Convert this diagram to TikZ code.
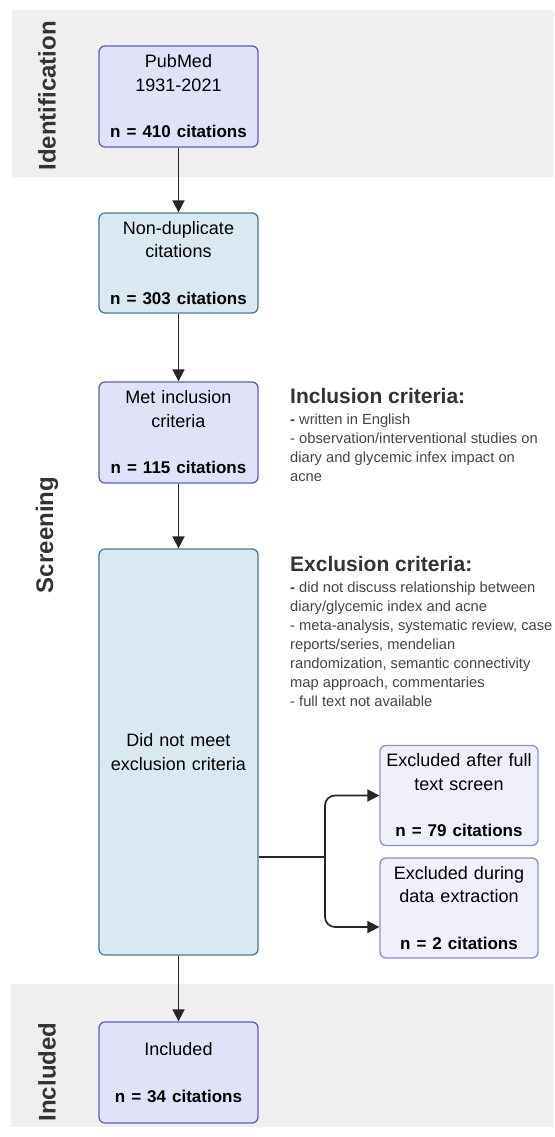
\documentclass[tikz,border=0pt]{standalone}
\usepackage{fontspec}
\setmainfont{Liberation Sans}
\usetikzlibrary{arrows.meta, positioning}

\definecolor{bandgray}{HTML}{EFEFEF}
\definecolor{lavfill}{HTML}{E0E2F7}
\definecolor{lavline}{HTML}{5D62B2}
\definecolor{bluefill}{HTML}{DAE9F1}
\definecolor{blueline}{HTML}{4E7894}
\definecolor{exfill}{HTML}{EFF0FA}
\definecolor{exline}{HTML}{8B90C7}
\definecolor{headgray}{HTML}{333333}
\definecolor{bodygray}{HTML}{444444}

\newcommand{\ncit}[1]{{\fontsize{17}{23.3}\selectfont\bfseries n = #1 citations}}

\begin{document}
\begin{tikzpicture}[x=1pt, y=-1pt,
    flowbox/.style={draw, line width=1.3pt, rounded corners=6pt, align=center, text width=150pt, inner sep=0pt, font=\fontsize{18}{23.3}\selectfont, text=black},
    lavbox/.style={flowbox, fill=lavfill, draw=lavline, minimum width=159pt, minimum height=101pt},
    bluebox/.style={flowbox, fill=bluefill, draw=blueline, minimum width=159pt},
    exbox/.style={flowbox, fill=exfill, draw=exline, minimum width=158pt, minimum height=100pt},
    stagelabel/.style={rotate=90, font=\fontsize{24}{24}\selectfont\bfseries, text=headgray},
    crithead/.style={font=\fontsize{21}{24}\selectfont\bfseries, text=headgray, inner sep=0pt},
    critbody/.style={font=\fontsize{14.7}{19}\selectfont, text=bodygray, align=left, inner sep=0pt},
    flowline/.style={line width=1.7pt, draw=black!85, -{Triangle[length=12pt, width=12pt]}},
  ]
    \useasboundingbox (0,0) rectangle (554,1137);

    % stage bands
    \fill[bandgray] (12,10) rectangle (554,177);
    \fill[bandgray] (11,984) rectangle (554,1127);
    \node[stagelabel] (idlab) at (47,96) {Identification};
    \node[stagelabel] (scrlab) at (47,535) {Screening};
    \node[stagelabel] (inclab) at (47,1072) {Included};

    % main column
    \node[lavbox] (pubmed) at (178.5,96.5) {PubMed\\1931-2021\\[23.3pt]\ncit{410}};
    \node[bluebox, minimum height=100pt] (nondup) at (178.5,263) {Non-duplicate\\citations\\[23.3pt]\ncit{303}};
    \node[lavbox] (metincl) at (178.5,432.5) {Met inclusion\\criteria\\[23.3pt]\ncit{115}};
    \node[bluebox, minimum height=406pt] (notmet) at (178.5,752) {Did not meet\\exclusion criteria};
    \node[lavbox] (included) at (178.5,1072.5) {Included\\[23.3pt]\ncit{34}};

    % excluded
    \node[exbox] (exfull) at (459,795.5) {Excluded after full\\text screen\\[23.3pt]\ncit{79}};
    \node[exbox] (exdata) at (459,908) {Excluded during\\data extraction\\[23.3pt]\ncit{2}};

    % criteria
    \node[crithead, anchor=west] (inclhead) at (290,396) {Inclusion criteria:};
    \node[critbody, below=10pt of inclhead.south west, anchor=north west] (incltext)
      {\textbf{-} written in English\\- observation/interventional studies on\\diary and glycemic infex impact on\\acne};
    \node[crithead, anchor=west] (exclhead) at (290,564) {Exclusion criteria:};
    \node[critbody, below=10pt of exclhead.south west, anchor=north west] (excltext)
      {\textbf{-} did not discuss relationship between\\diary/glycemic index and acne\\- meta-analysis, systematic review, case\\reports/series, mendelian\\randomization, semantic connectivity\\map approach, commentaries\\- full text not available};

    % connectors
    \draw[flowline] (pubmed) -- (nondup);
    \draw[flowline] (nondup) -- (metincl);
    \draw[flowline] (metincl) -- (notmet);
    \draw[flowline] (notmet) -- (included);
    \coordinate (split) at (325,857);
    \draw[line width=1.7pt, draw=black!85] (notmet.east |- split) -- (split);
    \draw[flowline, rounded corners=10pt] (split) |- (exfull.west);
    \draw[flowline, rounded corners=10pt] (split) |- ([yshift=-19pt]exdata.west);
\end{tikzpicture}
\end{document}
